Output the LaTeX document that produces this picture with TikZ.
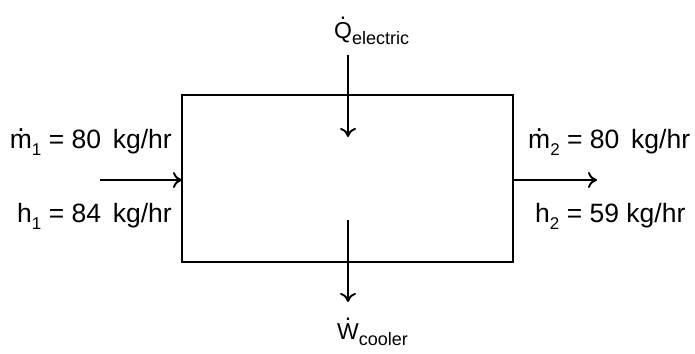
\documentclass[tikz,border=0pt]{standalone}
\usepackage{fontspec}
\setmainfont{Liberation Sans}
\usetikzlibrary{arrows.meta}
\newcommand{\dotover}[2]{\leavevmode\ooalign{#2\cr\hidewidth\raisebox{#1}{.}\hidewidth\cr}}
\newcommand{\sbs}[2]{\raisebox{-0.3em}{\fontsize{#1}{#1}\selectfont #2}}
\begin{document}
\begin{tikzpicture}[x=1pt,y=-1pt,
  lbl/.style={inner sep=0pt,font=\fontsize{26.5}{28}\selectfont},
  flow/.style={line width=1.8pt,-{To[length=9pt,width=16pt,line width=1.9pt]}},
  boxst/.style={draw,line width=1.8pt,minimum width=331pt,minimum height=167pt,inner sep=0pt}]
\useasboundingbox (0,0) rectangle (695,353);
\node[boxst] (box) at (347.5,178.5) {};
\coordinate (inL) at (100,180);
\coordinate (inR) at (182,180);
\coordinate (outL) at (513,180);
\coordinate (outR) at (597,180);
\coordinate (qT) at (348,55);
\coordinate (qB) at (348,137);
\coordinate (wT) at (348,220);
\coordinate (wB) at (348,302);
\draw[flow] (inL) -- (inR);
\draw[flow] (outL) -- (outR);
\draw[flow] (qT) -- (qB);
\draw[flow] (wT) -- (wB);
\node[lbl,anchor=base east] (m1) at (172,148) {\dotover{0.62em}{m}\sbs{17}{1} = 80 \,kg/hr};
\node[lbl,anchor=base east] (h1) at (172,222) {h\sbs{17}{1} = 84 \,kg/hr};
\node[lbl,anchor=base west] (m2) at (528,148) {\dotover{0.62em}{m}\sbs{17}{2} = 80 \,kg/hr};
\node[lbl,anchor=base west] (h2) at (535,222) {h\sbs{17}{2} = 59 kg/hr};
\node[lbl,anchor=base west,font=\fontsize{23}{26}\selectfont] (q) at (334,38) {\dotover{0.8em}{Q}\raisebox{-0.28em}{\fontsize{18}{18}\selectfont electric}};
\node[lbl,anchor=base west,font=\fontsize{23}{26}\selectfont] (w) at (337,339) {\dotover{0.8em}{W}\raisebox{-0.28em}{\fontsize{18}{18}\selectfont cooler}};
\end{tikzpicture}
\end{document}
